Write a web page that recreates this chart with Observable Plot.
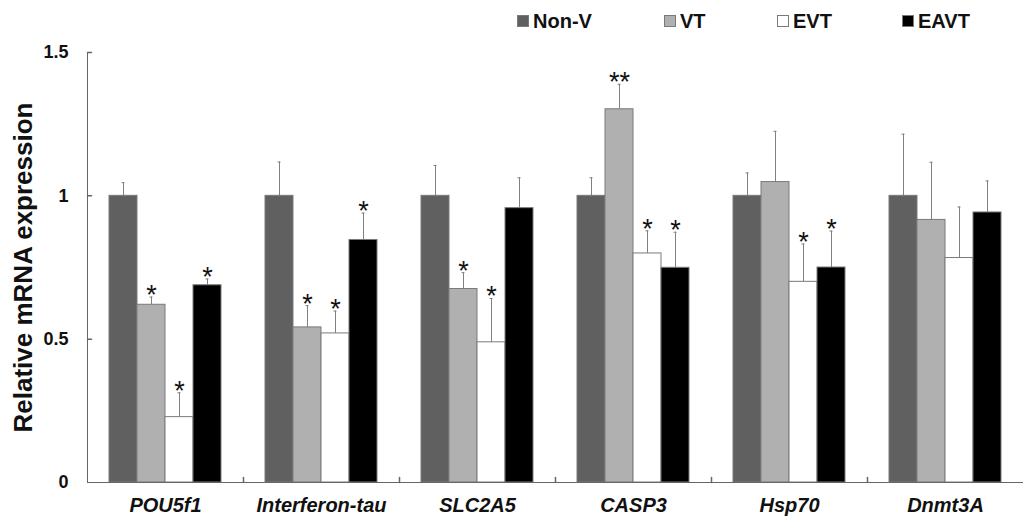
<!DOCTYPE html>
<html>
<head>
<meta charset="utf-8">
<script src="https://cdn.jsdelivr.net/npm/d3@7"></script>
<script src="https://cdn.jsdelivr.net/npm/@observablehq/plot@0.6"></script>
<style>
  body { margin: 0; background: #fff; font-family: "Liberation Sans", Arial, sans-serif; }
  #wrap { position: relative; width: 1026px; height: 524px; }
  #legend { position: absolute; left: 0; top: 0; width: 1026px; height: 40px; }
  .item { position: absolute; top: 9.5px; font-weight: bold; font-size: 20px; color: #111; display: flex; align-items: center; }
  .sw { width: 10px; height: 10px; border: 1px solid #7a7a7a; margin-right: 4px; }
  g[aria-label="y-axis label"] text { font-size: 26px; }
</style>
</head>
<body>
<div id="wrap"><div id="legend"></div><div id="chart"></div></div>
<script>
const genes = ["POU5f1", "Interferon-tau", "SLC2A5", "CASP3", "Hsp70", "Dnmt3A"];
const groups = ["Non-V", "VT", "EVT", "EAVT"];
const colors = ["#606060", "#b0b0b0", "#ffffff", "#000000"];
// mean values per group (one value per gene)
const nonV = [1.0, 1.0, 1.0, 1.0, 1.0, 1.0];
const vt   = [0.62, 0.541, 0.675, 1.302, 1.048, 0.916];
const evt  = [0.228, 0.52, 0.489, 0.799, 0.70, 0.783];
const eavt = [0.688, 0.846, 0.957, 0.749, 0.750, 0.942];
// upper error bar ends per group
const nonVErr = [1.046, 1.118, 1.106, 1.063, 1.080, 1.215];
const vtErr   = [0.647, 0.617, 0.732, 1.389, 1.225, 1.117];
const evtErr  = [0.313, 0.598, 0.642, 0.878, 0.832, 0.961];
const eavtErr = [0.710, 0.940, 1.063, 0.873, 0.877, 1.052];
// significance marks
const nonVSig = ["", "", "", "", "", ""];
const vtSig   = ["*", "*", "*", "**", "", ""];
const evtSig  = ["*", "*", "*", "*", "*", ""];
const eavtSig = ["*", "*", "", "*", "*", ""];
const yTicks = [0, 0.5, 1, 1.5];
const yTickLabels = ["0", "0.5", "1", "1.5"];

const seriesVals = [nonV, vt, evt, eavt];
const seriesErr = [nonVErr, vtErr, evtErr, eavtErr];
const seriesSig = [nonVSig, vtSig, evtSig, eavtSig];
const data = [];
genes.forEach((g, i) => groups.forEach((s, j) => data.push({
  gene: g, group: s, value: seriesVals[j][i], err: seriesErr[j][i], sig: seriesSig[j][i]
})));

const lineShape = { draw(context, l) { context.moveTo(0, 0); context.lineTo(0, -l); } };
const axisColor = "#666";

const chart = Plot.plot({
  width: 1026,
  height: 524,
  marginLeft: 86,
  marginRight: 3,
  marginTop: 52,
  marginBottom: 42,
  style: { fontFamily: "'Liberation Sans', Arial, sans-serif", background: "#fff", color: "#111" },
  fx: { domain: genes, padding: 0, axis: null },
  x: { domain: groups, paddingInner: 0, paddingOuter: 0.75, axis: null },
  y: { domain: [0, 1.5], axis: null },
  color: { domain: groups, range: colors },
  marks: [
    Plot.ruleX(data, { fx: "gene", x: "group", y1: "value", y2: "err", stroke: "#808080", strokeWidth: 1 }),
    Plot.tickY(data, { fx: "gene", x: "group", y: "err", stroke: "#808080", insetLeft: 12.5, insetRight: 12.5 }),
    Plot.barY(data, { fx: "gene", x: "group", y: "value", fill: "group", stroke: "#7a7a7a", strokeWidth: 1 }),
    Plot.text(data.filter(d => d.sig), { fx: "gene", x: "group", y: "err", text: "sig", lineAnchor: "bottom", dy: 7, fontSize: 27, fill: "#111" }),
    Plot.ruleY([0], { stroke: axisColor }),
    Plot.frame({ anchor: "left", fx: [genes[0]], stroke: axisColor }),
    Plot.vector(yTicks.slice(1), { fx: () => genes[0], y: d => d, frameAnchor: "left", length: 4, rotate: 90, anchor: "start", shape: lineShape, stroke: axisColor }),
    Plot.vector(genes.slice(1), { fx: d => d, frameAnchor: "bottom-left", length: 5, anchor: "start", shape: lineShape, stroke: axisColor }),
    Plot.axisY({ ticks: yTicks, tickFormat: (d, i) => yTickLabels[i], tickSize: 0, tickPadding: 19, fontSize: 18, fontWeight: "bold",
      label: "Relative mRNA expression", labelAnchor: "center", labelArrow: "none", labelOffset: 74 }),
    Plot.axisFx({ anchor: "bottom", tickSize: 0, tickPadding: 15, fontSize: 20, fontWeight: "bold", fontStyle: "italic", label: null })
  ]
});
document.getElementById("chart").appendChild(chart);

const legendX = [517, 664, 777, 902];
const legend = document.getElementById("legend");
groups.forEach((g, i) => {
  const item = document.createElement("div");
  item.className = "item";
  item.style.left = legendX[i] + "px";
  const sw = document.createElement("div");
  sw.className = "sw";
  sw.style.background = colors[i];
  item.appendChild(sw);
  item.appendChild(document.createTextNode(g));
  legend.appendChild(item);
});
</script>
</body>
</html>
